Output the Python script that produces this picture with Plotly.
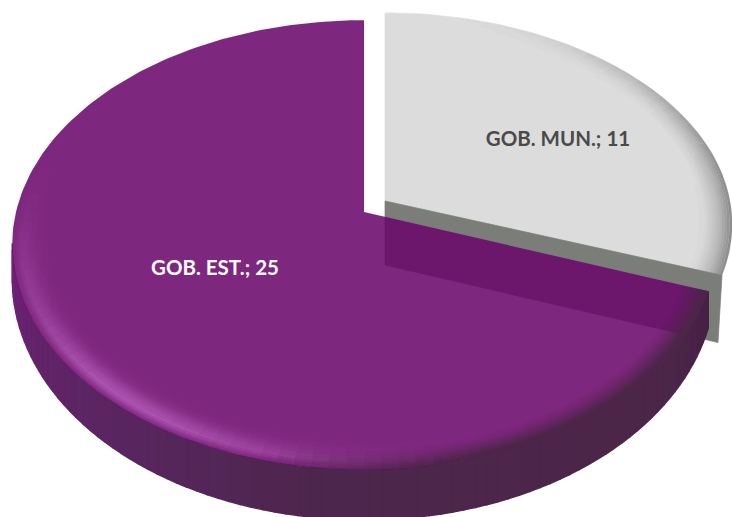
import math
import plotly.graph_objects as go

categories = ["GOB. EST.", "GOB. MUN."]
values = [25, 11]
label_colors = ["#FFFFFF", "#4A4A4A"]
label_pos = [(215, 270), (558, 141)]

total = sum(values)
sweep_mun = 360.0 * values[1] / total   # clockwise from 12 o'clock
W, HT = 732, 517


def project(cx, cy, R, H, k, ang, r=1.0, dz=0.0):
    t = math.radians(ang)
    X, Y = r * math.sin(t), r * math.cos(t)
    w = 1 + k * Y
    return cx + R * X / w, cy - H * Y / w + dz


def depth(T, ang):
    # the band looks thinner towards the sides of the disc
    Y = math.cos(math.radians(ang))
    return T * (0.6 + 0.4 * max(0.0, -Y))


PUR = dict(cx=364, cy=212, R=348, H=220, k=0.147)
GRY = dict(cx=385, cy=201, R=345, H=209, k=0.111)
T_PUR = 50
T_GRY = 64


def lerp(stops, a):
    if a <= stops[0][0]:
        return stops[0][1]
    for (a0, c0), (a1, c1) in zip(stops, stops[1:]):
        if a <= a1:
            f = (a - a0) / (a1 - a0)
            return tuple(c0[i] + (c1[i] - c0[i]) * f for i in range(3))
    return stops[-1][1]


def quad(P, a1, a2, r1, r2):
    return [project(**P, ang=a1, r=r1), project(**P, ang=a2, r=r1),
            project(**P, ang=a2, r=r2), project(**P, ang=a1, r=r2)]


def add(bk, color, pts):
    b = bk.setdefault(color, ([], []))
    for x, y in pts + [pts[0]]:
        b[0].append(x)
        b[1].append(y)
    b[0].append(None)
    b[1].append(None)


# --- GOB. MUN. slice: top, bevel, cut wall
grey = {}
gt = [project(**GRY, ang=0, r=0)] + [project(**GRY, ang=sweep_mun * i / 80) for i in range(81)]
add(grey, "#DCDCDC", gt)
N_R, N_A = 14, 36
for j in range(N_R):
    r1 = 0.90 + 0.10 * j / N_R
    r2 = 0.90 + 0.10 * (j + 1) / N_R
    fr = ((j + 0.5) / N_R) ** 1.8
    for i in range(N_A):
        a1 = sweep_mun * i / N_A
        a2 = sweep_mun * (i + 1) / N_A
        am = (a1 + a2) / 2
        wt = math.sin(math.radians(min(am, 90))) ** 3
        alpha = round(0.85 * fr * wt * 33) / 33
        if alpha > 0:
            add(grey, f"rgba(120,120,120,{alpha:.3f})", quad(GRY, a1, a2, r1, r2))
c0 = project(**GRY, ang=0, r=0)
c1 = project(**GRY, ang=sweep_mun)
add(grey, "#7B7D79", [c0, c1, (c1[0] - 4, c1[1] + T_GRY * 1.05), (c0[0], c0[1] + T_GRY)])

# --- GOB. EST. slice: outer side band (only the part facing the viewer)
side = {}
side_stops = [(110, (70, 32, 70)), (125, (76, 38, 72)), (190, (78, 38, 78)),
              (215, (88, 38, 95)), (240, (98, 36, 105)), (258, (112, 32, 122)),
              (262, (118, 34, 124))]
A0 = sweep_mun
A_SIDE = 262
for i in range(90):
    a1 = A0 + (A_SIDE - A0) * i / 90
    a2 = A0 + (A_SIDE - A0) * (i + 1) / 90
    c = lerp(side_stops, (a1 + a2) / 2)
    col = "#%02X%02X%02X" % tuple(int(v) for v in c)
    add(side, col, [project(**PUR, ang=a1), project(**PUR, ang=a2),
                    project(**PUR, ang=a2, dz=depth(T_PUR, a2)), project(**PUR, ang=a1, dz=depth(T_PUR, a1))])

# --- GOB. EST. slice: top face
ptop = [project(**PUR, ang=0, r=0)] + [project(**PUR, ang=A0 + (360 - A0) * i / 200) for i in range(201)]

# --- top-face bevel (highlight lower left, shadow lower right)
bevel = {}
N_R, N_A = 24, 100
for j in range(N_R):
    r1 = 0.86 + 0.14 * j / N_R
    r2 = 0.86 + 0.14 * (j + 1) / N_R
    rm = (r1 + r2) / 2
    for i in range(N_A):
        a1 = A0 + (360 - A0) * i / N_A
        a2 = A0 + (360 - A0) * (i + 1) / N_A
        am = (a1 + a2) / 2
        hi = math.exp(-((am - 218) / 32) ** 2) + 0.12 * math.exp(-((am - 258) / 12) ** 2)
        hi_r = math.exp(-((rm - 0.972) / 0.018) ** 2) if rm > 0.972 else math.exp(-((rm - 0.972) / 0.04) ** 2)
        a_hi = round(min(0.9, 0.9 * hi * hi_r) * 33) / 33
        if a_hi > 0:
            add(bevel, f"rgba(178,88,182,{a_hi:.3f})", quad(PUR, a1, a2, r1, r2))
        lo = 1.0 if am < 165 else max(0.0, 1 - (am - 165) / 30)
        lo_r = max(0.0, (rm - 0.93) / 0.055)
        a_lo = round(min(1.0, lo * lo_r ** 1.3) * 33) / 33
        if a_lo > 0:
            add(bevel, f"rgba(76,38,72,{a_lo:.3f})", quad(PUR, a1, a2, r1, r2))

fig = go.Figure()


def draw(bk, width=0.0):
    for color, (xs, ys) in bk.items():
        solid = color.startswith("#")
        fig.add_trace(go.Scatter(x=xs, y=ys, mode="lines", fill="toself", fillcolor=color,
                                 line=dict(color=color, width=width if solid else 0),
                                 hoverinfo="skip", showlegend=False))


draw(grey, 0.7)
draw(side, 1.3)
fig.add_trace(go.Scatter(x=[p[0] for p in ptop] + [ptop[0][0]], y=[p[1] for p in ptop] + [ptop[0][1]],
                         mode="lines", fill="toself", fillcolor="rgba(106,6,106,0.865)",
                         line=dict(width=0), hoverinfo="skip", showlegend=False))
draw(bevel)

for cat, val, col, pos in zip(categories, values, label_colors, label_pos):
    fig.add_trace(go.Scatter(x=[pos[0]], y=[pos[1]], mode="text", text=[f"{cat}; {val}"],
                             textposition="middle center",
                             textfont=dict(family="Lato", size=20.5, color=col, weight="bold"),
                             hoverinfo="skip", showlegend=False))

fig.update_xaxes(range=[0, W], visible=False, fixedrange=True)
fig.update_yaxes(range=[HT, 0], visible=False, fixedrange=True)
fig.update_layout(width=W, height=HT, margin=dict(l=0, r=0, t=0, b=0),
                  paper_bgcolor="white", plot_bgcolor="white", showlegend=False)
fig.write_html("out.html", config={"displayModeBar": False},
               post_script="document.body.style.margin='0';document.documentElement.style.overflow='hidden';")
